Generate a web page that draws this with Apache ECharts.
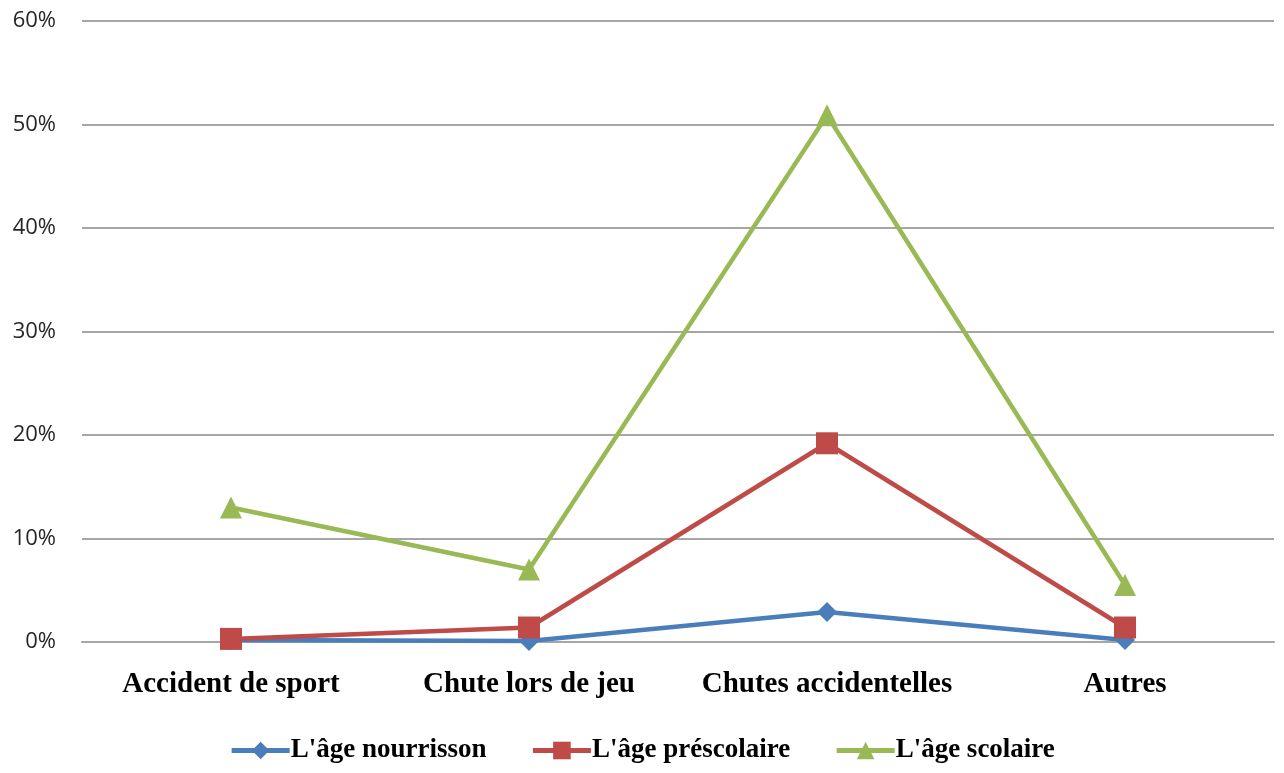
<!DOCTYPE html>
<html>
<head>
<meta charset="utf-8">
<script src="https://cdn.jsdelivr.net/npm/echarts@6/dist/echarts.min.js"></script>
<style>
  html, body { margin: 0; padding: 0; background: #fff; }
  #chart { width: 1284px; height: 773px; }
</style>
</head>
<body>
<div id="chart"></div>
<script>
// Causes of injury by age group (percent of cases)
const categories = ['Accident de sport', 'Chute lors de jeu', 'Chutes accidentelles', 'Autres'];
const nourrisson = [0.2, 0.1, 2.9, 0.2];
const prescolaire = [0.3, 1.4, 19.2, 1.4];
const scolaire = [13.0, 7.0, 50.9, 5.5];
const seriesNames = ["L'âge nourrisson", "L'âge préscolaire", "L'âge scolaire"];
const yTicks = { min: 0, max: 60, interval: 10 };

const colors = ['#4a7ebb', '#be4b48', '#98b954'];
const symbols = ['diamond', 'rect', 'triangle'];
const sizes = [20, 22, 22];

const chart = echarts.init(document.getElementById('chart'));
const seriesData = [nourrisson, prescolaire, scolaire];

chart.setOption({
  animation: false,
  color: colors,
  grid: { left: 82, right: 10, top: 21, bottom: 131, containLabel: false },
  legend: {
    bottom: 4,
    left: 'center',
    itemWidth: 58,
    itemHeight: 22,
    itemGap: 44,
    lineStyle: { width: 5 },
    textStyle: { fontFamily: 'Liberation Serif', fontWeight: 'bold', fontSize: 27, color: '#000', padding: [0, 0, 0, -4] },
    data: seriesNames
  },
  xAxis: {
    type: 'category',
    data: categories,
    boundaryGap: true,
    axisLine: { show: true, lineStyle: { color: '#a6a6a6', width: 2 } },
    axisTick: { show: false },
    axisLabel: {
      interval: 0,
      hideOverlap: false,
      margin: 28,
      fontFamily: 'Liberation Serif',
      fontWeight: 'bold',
      fontSize: 29,
      color: '#000'
    }
  },
  yAxis: {
    type: 'value',
    min: yTicks.min,
    max: yTicks.max,
    interval: yTicks.interval,
    axisLine: { show: false },
    axisTick: { show: false },
    splitLine: { lineStyle: { color: '#a6a6a6', width: 2 } },
    axisLabel: {
      margin: 26,
      fontFamily: 'Open Sans',
      fontSize: 22,
      color: '#262626',
      formatter: v => v + '%'
    }
  },
  series: seriesData.map((d, i) => ({
    name: seriesNames[i],
    type: 'line',
    data: d,
    symbol: symbols[i],
    symbolSize: sizes[i],
    showAllSymbol: true,
    z: 2 + i,
    lineStyle: { width: 4.5, color: colors[i] },
    itemStyle: { color: colors[i] }
  }))
});
</script>
</body>
</html>
